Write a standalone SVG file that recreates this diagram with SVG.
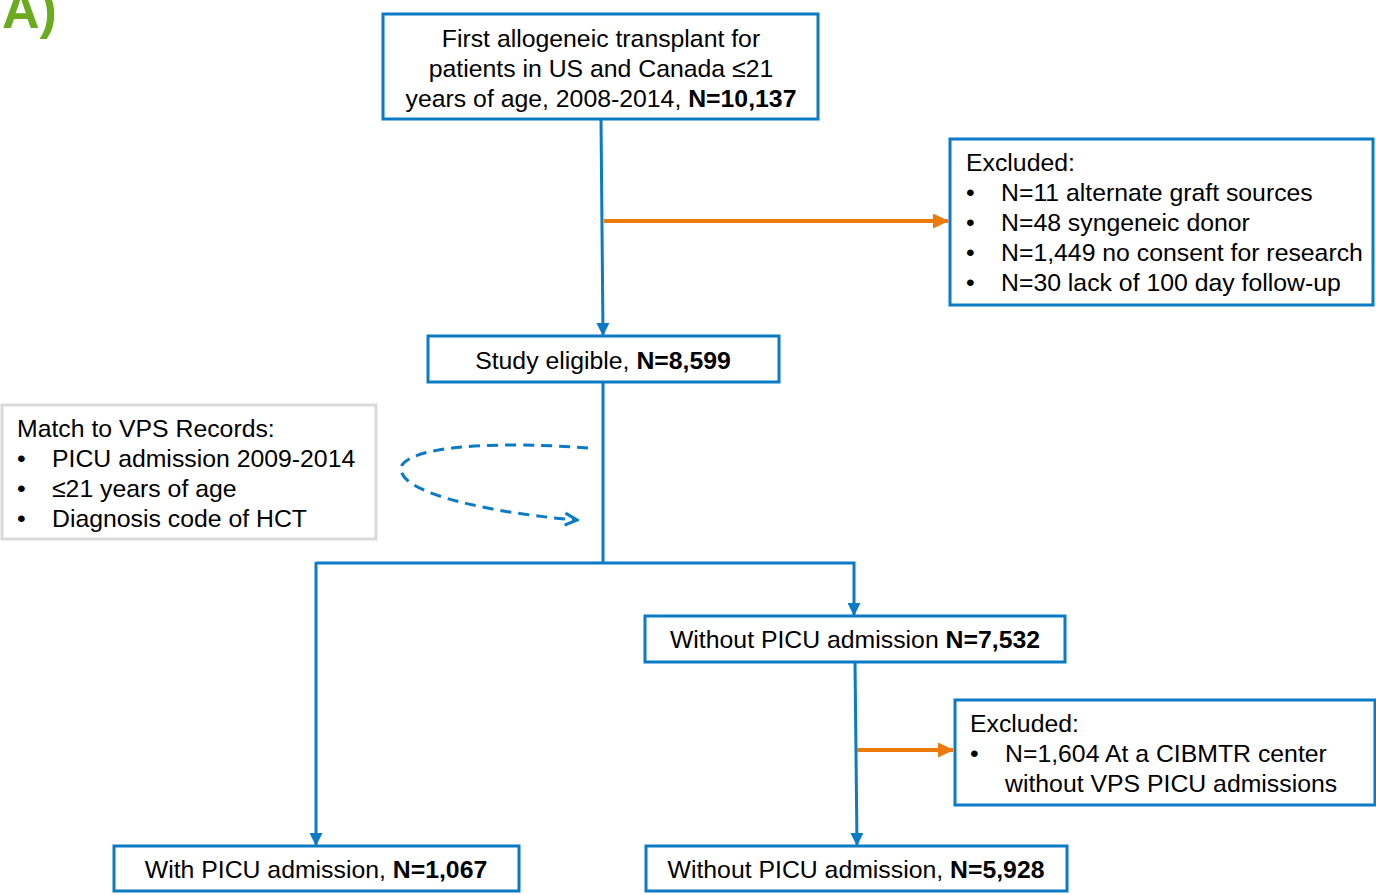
<svg xmlns="http://www.w3.org/2000/svg" width="1376" height="895" viewBox="0 0 1376 895">
<style>
.box{fill:#fff;stroke:#0a7bc4;stroke-width:3}
.gbox{fill:#fff;stroke:#d9d9d9;stroke-width:3}
text{font-family:"Liberation Sans",Arial,sans-serif;font-size:24.8px;fill:#000}
.c{text-anchor:middle}
.b{font-weight:bold}
.blue{fill:none;stroke:#0a7bc4;stroke-width:3}
.orange{fill:none;stroke:#ec7a08;stroke-width:4}
</style>
<defs>
<marker id="ab" markerWidth="13" markerHeight="13" refX="12" refY="6.5" orient="auto" markerUnits="userSpaceOnUse" viewBox="0 0 13 13"><path d="M0,0 L13,6.5 L0,13 z" fill="#0a7bc4"/></marker>
<marker id="ao" markerWidth="16" markerHeight="15" refX="15" refY="7.5" orient="auto" markerUnits="userSpaceOnUse" viewBox="0 0 16 15"><path d="M0,0 L16,7.5 L0,15 z" fill="#ec7a08"/></marker>
<marker id="ad" markerWidth="16" markerHeight="16" refX="14" refY="8" orient="auto" markerUnits="userSpaceOnUse" viewBox="0 0 16 16"><path d="M2,2 L14,8 L2,14" fill="none" stroke="#0a7bc4" stroke-width="3"/></marker>
</defs>
<text x="2" y="28" style="font-size:52px;font-weight:bold;fill:#6aab1f">A)</text>
<g id="connectors">
<path class="blue" d="M601,119 L603,335" marker-end="url(#ab)"/>
<path class="orange" d="M604,221 L948,221" marker-end="url(#ao)"/>
<path class="blue" d="M603,382 L603,563"/>
<path class="blue" d="M316,563 L854,563 L854,615" marker-end="url(#ab)"/>
<path class="blue" d="M316,562 L316,845" marker-end="url(#ab)"/>
<path class="blue" d="M855,662 L857,845" marker-end="url(#ab)"/>
<path class="orange" d="M857,750 L953,750" marker-end="url(#ao)"/>
<path d="M588,448 C540,444 420,440 402,465 C390,495 510,515 577,520" fill="none" stroke="#0a7bc4" stroke-width="3" stroke-dasharray="11,7" marker-end="url(#ad)"/>
</g>
<g id="top">
<rect class="box" x="383" y="14" width="435" height="105"/>
<text class="c" x="601" y="47">First allogeneic transplant for</text>
<text class="c" x="601" y="77">patients in US and Canada ≤21</text>
<text class="c" x="601" y="107">years of age, 2008-2014, <tspan class="b">N=10,137</tspan></text>
</g>
<g id="excluded1">
<rect class="box" x="950" y="139" width="423" height="166"/>
<text x="966" y="171">Excluded:</text>
<text x="966" y="201">•</text><text x="1001" y="201">N=11 alternate graft sources</text>
<text x="966" y="231">•</text><text x="1001" y="231">N=48 syngeneic donor</text>
<text x="966" y="261">•</text><text x="1001" y="261">N=1,449 no consent for research</text>
<text x="966" y="291">•</text><text x="1001" y="291">N=30 lack of 100 day follow-up</text>
</g>
<g id="eligible">
<rect class="box" x="428" y="336" width="351" height="46"/>
<text class="c" x="603" y="369">Study eligible, <tspan class="b">N=8,599</tspan></text>
</g>
<g id="match">
<rect class="gbox" x="2" y="405" width="374" height="134"/>
<text x="17" y="437">Match to VPS Records:</text>
<text x="17" y="467">•</text><text x="52" y="467">PICU admission 2009-2014</text>
<text x="17" y="497">•</text><text x="52" y="497">≤21 years of age</text>
<text x="17" y="527">•</text><text x="52" y="527">Diagnosis code of HCT</text>
</g>
<g id="without1">
<rect class="box" x="645" y="616" width="420" height="46"/>
<text class="c" x="855" y="648">Without PICU admission <tspan class="b">N=7,532</tspan></text>
</g>
<g id="excluded2">
<rect class="box" x="955" y="700" width="420" height="105"/>
<text x="970" y="732">Excluded:</text>
<text x="970" y="762">•</text><text x="1005" y="762">N=1,604 At a CIBMTR center</text>
<text x="1005" y="792">without VPS PICU admissions</text>
</g>
<g id="with">
<rect class="box" x="114" y="846" width="405" height="45"/>
<text class="c" x="316" y="878">With PICU admission, <tspan class="b">N=1,067</tspan></text>
</g>
<g id="without2">
<rect class="box" x="646" y="846" width="421" height="45"/>
<text class="c" x="856" y="878">Without PICU admission, <tspan class="b">N=5,928</tspan></text>
</g>
</svg>
